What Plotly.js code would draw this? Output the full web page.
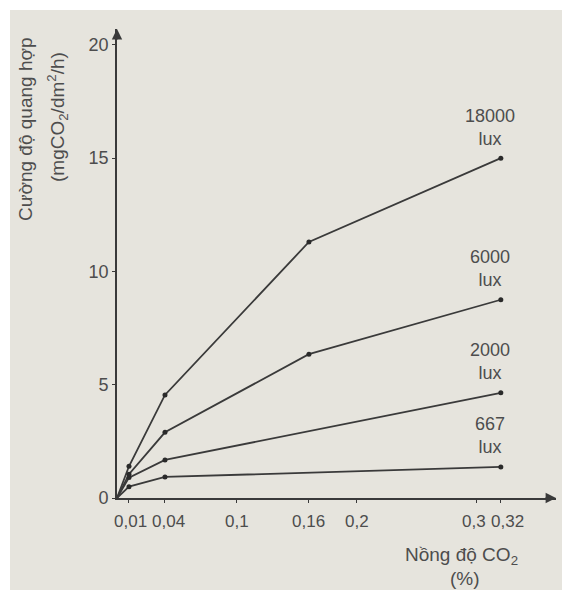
<!DOCTYPE html>
<html>
<head>
<meta charset="utf-8">
<script src="https://cdn.plot.ly/plotly-3.0.1.min.js"></script>
<style>
  html, body { margin: 0; padding: 0; background: #ffffff; }
  #chart { width: 562px; height: 590px; background: #e6e4dd; box-shadow: inset 10px 10px 0 #ffffff; }
</style>
</head>
<body>
<div id="chart"></div>
<script>
// CO2 concentration (%)
const co2 = [0, 0.01, 0.04, 0.16, 0.32];
const co2Straight = [0, 0.01, 0.04, 0.32];
// Photosynthesis rate (mgCO2/dm2/h) for each light intensity
const lux18000 = [0, 1.4, 4.55, 11.3, 15.0];
const lux6000 = [0, 1.05, 2.9, 6.35, 8.75];
const lux2000 = [0, 0.9, 1.68, 4.64];
const lux667 = [0, 0.5, 0.93, 1.37];
const seriesNames = ['18000', '6000', '2000', '667'];
const xTickVals = [0.01, 0.04, 0.1, 0.16, 0.2, 0.3, 0.32];
const xTickText = ['0,01', '0,04', '0,1', '0,16', '0,2', '0,3', '0,32'];
const yTickVals = [0, 5, 10, 15, 20];

// label nudges (pixels) so crowded tick labels do not collide, as in the figure
const xLabelNudge = [2, 4, 0, 0, 0, -3, 7];

const lineColor = '#3a3a3a';
const textColor = '#4d4d4d';
const fontFam = '"Liberation Sans", Arial, sans-serif';

const series = [
  {x: co2, y: lux18000, name: seriesNames[0]},
  {x: co2, y: lux6000, name: seriesNames[1]},
  {x: co2Straight, y: lux2000, name: seriesNames[2]},
  {x: co2Straight, y: lux667, name: seriesNames[3]}
];

const traces = [];
series.forEach(s => {
  traces.push({x: s.x, y: s.y, mode: 'lines', type: 'scatter',
    line: {color: lineColor, width: 1.8}, hoverinfo: 'skip', showlegend: false});
  traces.push({x: s.x.slice(1), y: s.y.slice(1), mode: 'markers', type: 'scatter',
    marker: {color: '#2a2a2a', size: 5}, showlegend: false});
});

const annotations = [];
// series labels above the end points
series.forEach(s => {
  const n = s.x.length - 1;
  annotations.push({x: s.x[n], y: s.y[n], xref: 'x', yref: 'y',
    text: s.name + '<br>lux', showarrow: false, xshift: -11, yshift: 31,
    font: {family: fontFam, size: 18, color: textColor}, align: 'center'});
});
// x tick labels
xTickVals.forEach((v, i) => {
  annotations.push({x: v, y: 0, xref: 'x', yref: 'paper', xanchor: 'center', yanchor: 'middle',
    text: xTickText[i], showarrow: false, xshift: xLabelNudge[i], yshift: -23,
    font: {family: fontFam, size: 17, color: textColor}});
});
// axis arrows
annotations.push({x: 0, y: 20.7, xref: 'x', yref: 'y', ax: 0, ay: 12, text: '',
  showarrow: true, arrowhead: 2, arrowsize: 1.3, arrowwidth: 1.6, arrowcolor: lineColor});
annotations.push({x: 0.366, y: 0, xref: 'x', yref: 'y', ax: -12, ay: 0, text: '',
  showarrow: true, arrowhead: 2, arrowsize: 1.3, arrowwidth: 1.6, arrowcolor: lineColor});
// axis titles
annotations.push({x: -0.207, y: 0.785, xref: 'paper', yref: 'paper', xanchor: 'center', yanchor: 'middle',
  text: 'Cường độ quang hợp', textangle: -90, showarrow: false,
  font: {family: fontFam, size: 19, color: textColor}});
annotations.push({x: -0.137, y: 0.812, xref: 'paper', yref: 'paper', xanchor: 'center', yanchor: 'middle',
  text: '(mgCO<sub>2</sub>/dm<sup>2</sup>/h)', textangle: -90, showarrow: false,
  font: {family: fontFam, size: 19, color: textColor}});
annotations.push({x: 0.785, y: -0.124, xref: 'paper', yref: 'paper', xanchor: 'center', yanchor: 'middle',
  text: 'Nồng độ CO<sub>2</sub>', showarrow: false,
  font: {family: fontFam, size: 19, color: textColor}});
annotations.push({x: 0.793, y: -0.171, xref: 'paper', yref: 'paper', xanchor: 'center', yanchor: 'middle',
  text: '(%)', showarrow: false,
  font: {family: fontFam, size: 19, color: textColor}});

const layout = {
  width: 562, height: 590,
  margin: {l: 117, r: 6, t: 29, b: 92},
  paper_bgcolor: 'rgba(0,0,0,0)',
  plot_bgcolor: 'rgba(0,0,0,0)',
  showlegend: false,
  xaxis: {
    range: [0, 0.366], showgrid: false, zeroline: false,
    showline: true, linecolor: lineColor, linewidth: 1.8,
    tickmode: 'array', tickvals: xTickVals, showticklabels: false,
    ticks: 'outside', ticklen: 3, tickcolor: lineColor
  },
  yaxis: {
    range: [0, 20.7], showgrid: false, zeroline: false,
    showline: true, linecolor: lineColor, linewidth: 1.8,
    tickmode: 'array', tickvals: yTickVals,
    ticks: 'outside', ticklen: 3, tickcolor: lineColor,
    tickfont: {family: fontFam, size: 18, color: textColor}
  },
  annotations: annotations
};

Plotly.newPlot('chart', traces, layout, {displayModeBar: false, staticPlot: true});
</script>
</body>
</html>
